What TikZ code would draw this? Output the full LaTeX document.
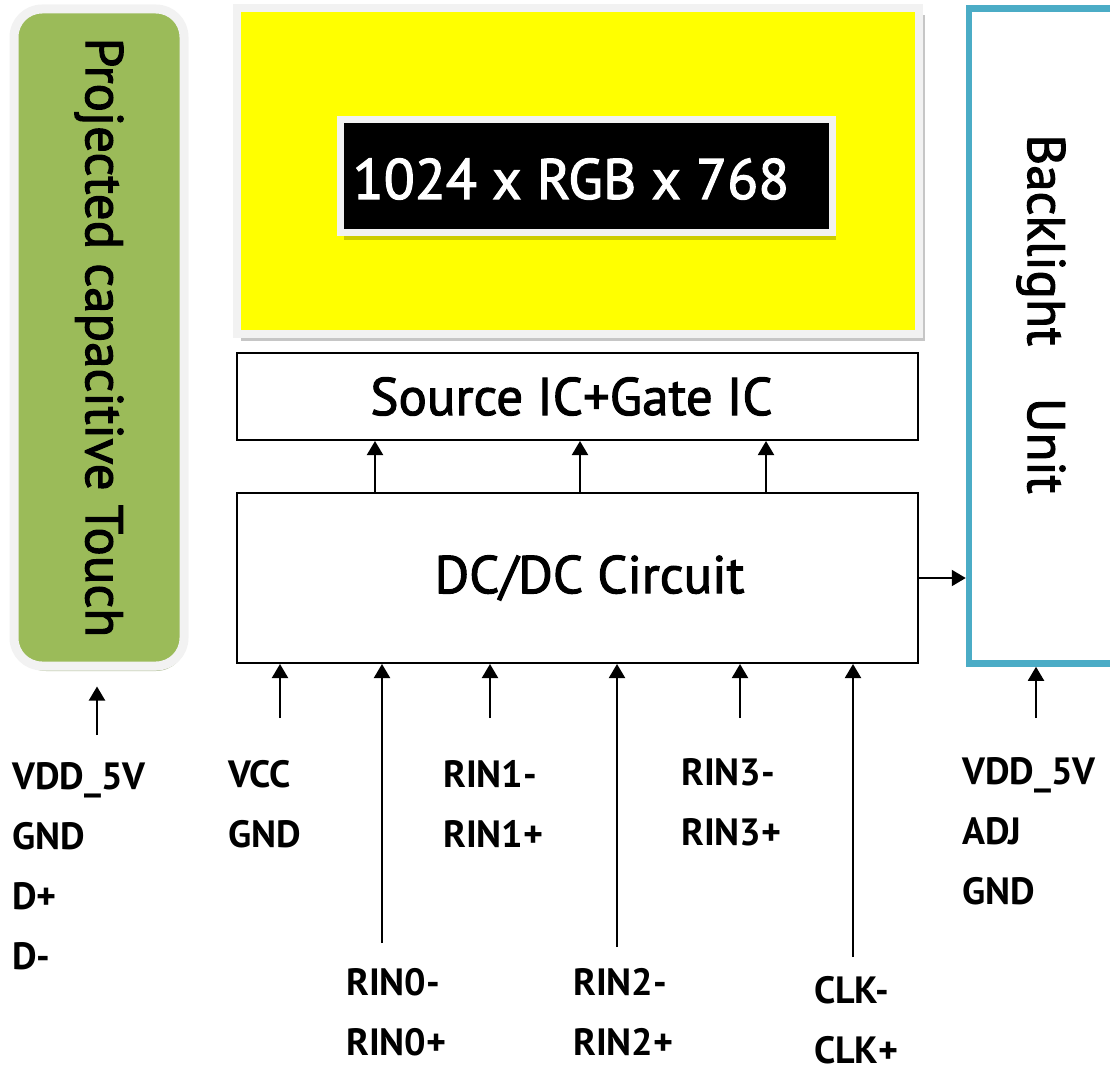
\documentclass[tikz,border=0pt]{standalone}
\usepackage{fontspec}
\setmainfont{PT Sans}
\newfontfamily\boxfont{PT Sans}[FakeBold=2]
\usetikzlibrary{arrows.meta}
\definecolor{touchgreen}{HTML}{9BBB59}
\definecolor{lightcyan}{HTML}{4BACC6}
\definecolor{framegray}{HTML}{F2F2F2}
\definecolor{panelyellow}{HTML}{FFFF00}
\begin{document}
\begin{tikzpicture}[x=1pt, y=-1pt,
    box/.style={draw, line width=2pt, inner sep=0pt, font=\boxfont\fontsize{53}{60}\selectfont},
    sig/.style={-{Triangle[width=16pt,length=14pt]}, line width=2pt},
    pin/.style={anchor=north west, inner sep=0pt, align=left, font=\fontsize{38}{60}\bfseries\selectfont},
    upright/.style={rotate=-90, font=\boxfont\fontsize{53}{60}\selectfont}]
    \useasboundingbox (0,0) rectangle (1110,1073);

    \fill[gray!40!touchgreen!70, rounded corners=30pt] (16,13) rectangle (186,671);
    \node[upright, draw=framegray, line width=9pt, fill=touchgreen, rounded corners=28pt,
      minimum width=657pt, minimum height=170pt] (touch) at (99,337.5) {Projected capacitive Touch};

    \fill[gray!45] (241,15) rectangle (925,341);
    \draw[framegray, line width=8pt, fill=panelyellow] (237,8) rectangle (918.5,333.5);
    \fill[panelyellow!80!black] (344,123) rectangle (836,240);
    \draw[framegray, line width=7pt, fill=black] (340.5,119.5) rectangle (832,232);
    \node[white, font=\boxfont\fontsize{57}{60}\selectfont] (res) at (571,179) {1024 x RGB x 768};

    \node[box, minimum width=681pt, minimum height=87pt] (src) at (577.5,396.5) {Source IC+Gate IC\hspace*{12pt}};
    \node[box, minimum width=681pt, minimum height=170pt] (dc) at (577.5,578) {\hspace*{24pt}DC/DC Circuit};

    \node[draw=lightcyan, line width=6.5pt, minimum width=171pt, minimum height=655pt] (bl) at (1054.5,336) {};
    \node[upright] (bltext) at (1041,314) {Backlight\hspace{52pt}Unit};

    \foreach \x [count=\i] in {375,580,766} {
        \coordinate (u\i) at (\x,470);
        \draw[sig] (u\i |- dc.north) -- (u\i |- src.south);
    }
    \draw[sig] (dc.east) -- (dc.east -| bl.west);

    \coordinate (t0) at (97,735);
    \draw[sig, shorten >=16pt] (t0) -- (t0 |- touch.east);
    \foreach \x/\y [count=\i] in {280/718, 382/943, 490/718, 617/947, 740/718, 853/957} {
        \coordinate (p\i) at (\x,\y);
        \draw[sig] (p\i) -- (p\i |- dc.south);
    }
    \coordinate (b1) at (1036,718);
    \draw[sig] (b1) -- (b1 |- bl.south);

    \node[pin] (lt) at (12,762) {VDD\_5V\\GND\\D+\\D-};
    \node[pin] (lv) at (228,760) {VCC\\GND};
    \node[pin] (l0) at (346,968) {RIN0-\\RIN0+};
    \node[pin] (l1) at (443,760) {RIN1-\\RIN1+};
    \node[pin] (l2) at (573,968) {RIN2-\\RIN2+};
    \node[pin] (l3) at (681,758) {RIN3-\\RIN3+};
    \node[pin] (lc) at (814,976) {CLK-\\CLK+};
    \node[pin] (lb) at (962,757) {VDD\_5V\\ADJ\\GND};
\end{tikzpicture}
\end{document}
